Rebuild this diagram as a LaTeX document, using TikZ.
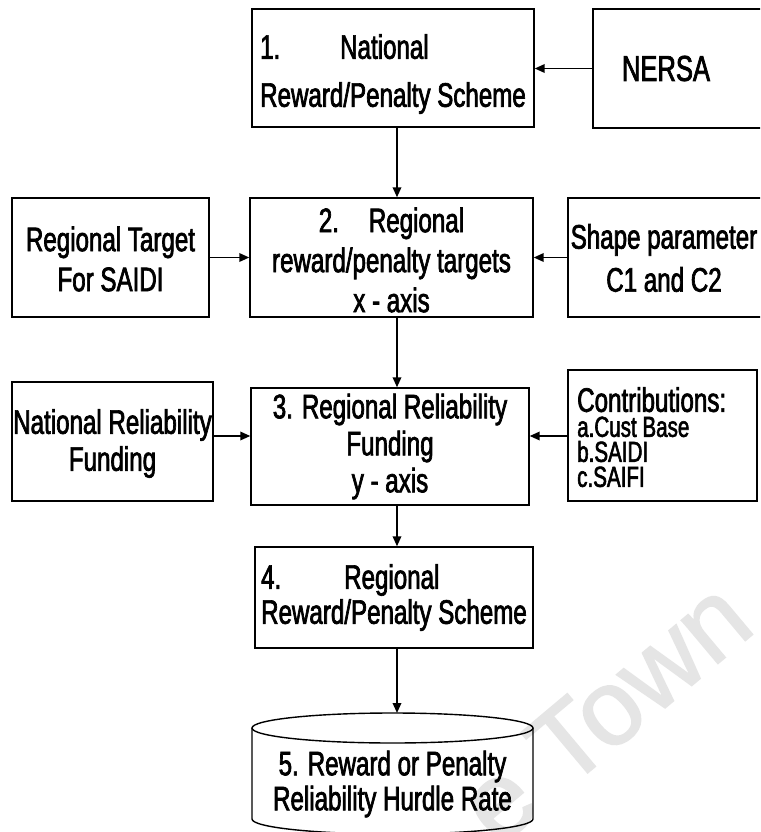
\documentclass[tikz,border=0pt]{standalone}
\usepackage{fontspec}
\setmainfont{Liberation Sans}[FakeStretch=0.71, FakeBold=2]
\newfontfamily\wmfont{Liberation Sans}[FakeBold=1.5]
\usetikzlibrary{arrows.meta}
\begin{document}
\begin{tikzpicture}[x=1pt,y=-1pt,
  box/.style={draw, line width=1.4pt, inner sep=0pt},
  lbl/.style={inner sep=0pt, align=center},
  arr/.style={line width=1.8pt, -{Triangle[length=10pt,width=8.5pt]}},
  big/.style={font=\fontsize{34}{#1}\selectfont}
]
\clip (0,0) rectangle (760,832);
\fill[white] (0,0) rectangle (760,832);

% faint watermark behind the chart
\node[text=black!10, rotate=40, anchor=base west, inner sep=0pt,
      font=\wmfont\fontsize{107}{107}\selectfont] (wm) at (498,848) {e Town};

\coordinate (spine) at (397,0);
\coordinate (row3) at (0,436);

% 1. national scheme and its source
\node[box, minimum width=282pt, minimum height=118pt] (n1) at (393,68) {};
\node[lbl, align=left, big=48] (t1) at (393,74)
  {\makebox[80pt][l]{1.}National\\Reward/Penalty Scheme};
\node[box, minimum width=207pt, minimum height=119pt] (nersa) at (696.5,68.5) {};
\node[lbl, font=\fontsize{36}{40}\selectfont] (nersatext) at (666,68.5) {NERSA};

% 2. regional targets
\node[box, minimum width=283pt, minimum height=119pt] (n2) at (391.5,257.5) {};
\node[lbl, big=40] (t2) at (391.5,260)
  {\makebox[50pt][l]{2.}Regional\\reward/penalty targets\\x - axis};
\node[box, minimum width=197pt, minimum height=119pt] (rt) at (110.5,257.5) {};
\node[lbl, big=40] (rttext) at (110.5,259) {Regional Target\\For SAIDI};
\node[box, minimum width=232pt, minimum height=119pt] (sp) at (684,257.5) {};
\node[lbl, big=43] (sptext) at (664,258) {Shape parameter\\C1 and C2};

% 3. regional funding
\node[box, minimum width=278pt, minimum height=117pt] (n3) at (390,446.5) {};
\node[lbl, big=37] (t3) at (390,446.5) {3. Regional Reliability\\Funding\\y - axis};
\node[box, minimum width=201pt, minimum height=119pt] (nrf) at (112.5,441.5) {};
\node[lbl, big=37] (nrftext) at (112.5,443.5) {National Reliability\\Funding};
\node[box, minimum width=189pt, minimum height=131pt] (ct) at (662.5,435.5) {};
\node[lbl, align=left, anchor=north west, font=\fontsize{29}{25}\selectfont] (cttext) at (577,387)
  {{\fontsize{34}{25}\selectfont Contributions:}\\a.Cust Base\\b.SAIDI\\c.SAIFI};

% 4. regional scheme
\node[box, minimum width=278pt, minimum height=101pt] (n4) at (394,597.5) {};
\node[lbl, align=left, big=35] (t4) at (394,597.5)
  {\makebox[83pt][l]{4.}Regional\\Reward/Penalty Scheme};

% 5. hurdle rate store
\draw[line width=1.4pt] (252,728) -- (252,819)
  arc[start angle=180, end angle=360, x radius=140.5pt, y radius=15pt] -- (533,728);
\draw[line width=1.4pt] (392.5,728) ellipse [x radius=140.5pt, y radius=15pt];
\coordinate (cyltop) at (397,713);
\node[lbl, big=35] (cyl) at (392.5,784) {5. Reward or Penalty\\Reliability Hurdle Rate};

% connectors
\draw[arr] (nersa.west) -- (nersa.west -| n1.east);
\draw[arr] (n1.south -| spine) -- (n2.north -| spine);
\draw[arr] (rt.east) -- (rt.east -| n2.west);
\draw[arr] (sp.west) -- (sp.west -| n2.east);
\draw[arr] (n2.south -| spine) -- (n3.north -| spine);
\draw[arr] (nrf.east |- row3) -- (n3.west |- row3);
\draw[arr] (ct.west |- row3) -- (n3.east |- row3);
\draw[arr] (n3.south -| spine) -- (n4.north -| spine);
\draw[arr] (n4.south -| spine) -- (cyltop);
\end{tikzpicture}
\end{document}
